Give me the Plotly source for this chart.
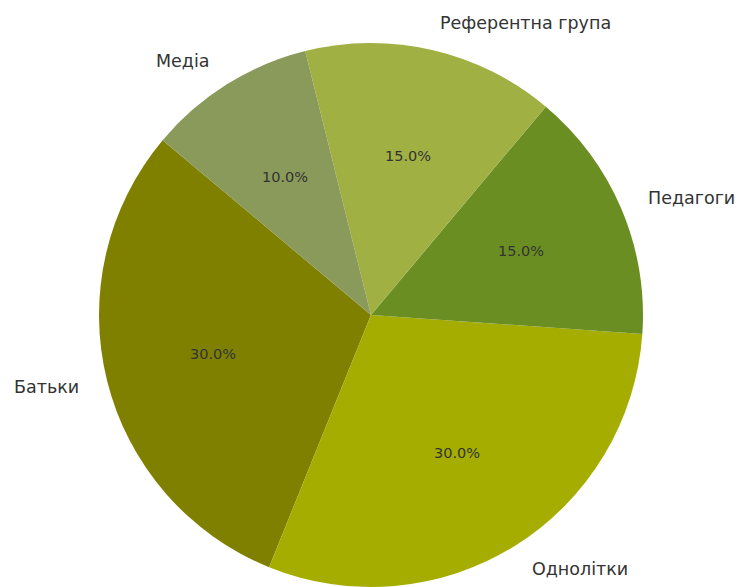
import math
import plotly.graph_objects as go

labels = ["Батьки", "Однолітки", "Педагоги", "Референтна група", "Медіа"]
values = [30, 30, 15, 15, 10]
colors = ["#808000", "#A5AE00", "#6B8E23", "#A0B043", "#8A9A5B"]

W, H = 738, 587
dom_x = [0.0054, 1.0]
dom_y = [0.0, 0.9267]
start_angle = 140  # degrees, counterclockwise from 3 o'clock

total = sum(values)
# plotly (counterclockwise): the first slice ends at `rotation` (clock angle from 12 o'clock)
first_end = start_angle + 360 * values[0] / total
rotation = 90 - first_end

fig = go.Figure(go.Pie(
    labels=labels, values=values, sort=False,
    direction="counterclockwise", rotation=rotation,
    marker=dict(colors=colors, line=dict(width=0)),
    textinfo="none", showlegend=False,
    domain=dict(x=dom_x, y=dom_y),
))

cx = (dom_x[0] + dom_x[1]) / 2
cy = (dom_y[0] + dom_y[1]) / 2
r_px = min(W * (dom_x[1] - dom_x[0]), H * (dom_y[1] - dom_y[0])) / 2
cum = 0
annotations = []
for lab, v in zip(labels, values):
    mid = math.radians(start_angle + 360 * (cum + v / 2) / total)
    cum += v
    c, s = math.cos(mid), math.sin(mid)
    annotations.append(dict(
        x=cx + 1.1 * r_px * c / W, y=cy + 1.1 * r_px * s / H,
        xref="paper", yref="paper", text=lab, showarrow=False,
        xanchor="left" if c > 0 else "right", yanchor="middle",
        font=dict(family="DejaVu Sans", size=17.5, color="#333333"),
    ))
    annotations.append(dict(
        x=cx + 0.6 * r_px * c / W, y=cy + 0.6 * r_px * s / H,
        xref="paper", yref="paper", text=f"{100 * v / total:.1f}%", showarrow=False,
        xanchor="center", yanchor="middle",
        font=dict(family="DejaVu Sans", size=14.5, color="#333333"),
    ))

fig.update_layout(
    width=W, height=H,
    margin=dict(l=0, r=0, t=0, b=0),
    paper_bgcolor="white", plot_bgcolor="white",
    annotations=annotations,
)

fig.write_html("out.html", config={"displayModeBar": False},
               post_script="document.body.style.margin='0px';")
